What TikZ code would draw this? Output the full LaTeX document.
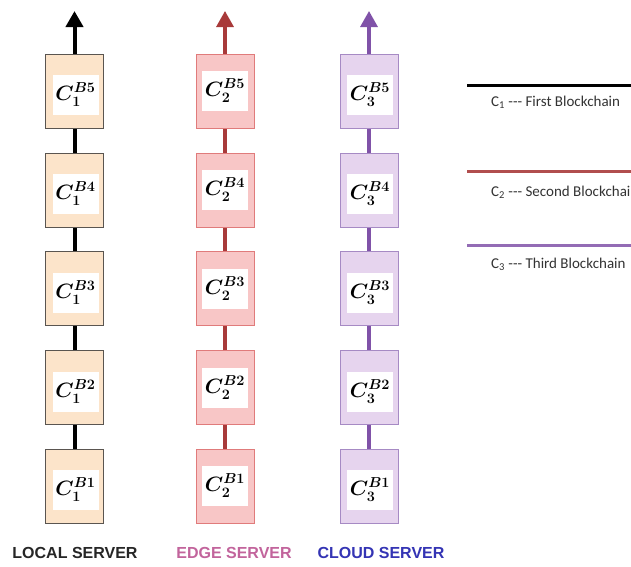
\documentclass[tikz,border=0pt]{standalone}
\usepackage{fontspec}
\usepackage{amsmath}
\newfontfamily\legendfont{Carlito}
\newfontfamily\labelfont{Liberation Sans}
\usetikzlibrary{arrows.meta}
\definecolor{peach}{HTML}{FCE4CA}
\definecolor{peachb}{HTML}{5A5550}
\definecolor{pinkf}{HTML}{F8C6C6}
\definecolor{pinkb}{HTML}{E07B7B}
\definecolor{lavf}{HTML}{E6D4EE}
\definecolor{lavb}{HTML}{A68AC4}
\definecolor{redl}{HTML}{A83A3A}
\definecolor{purl}{HTML}{8052A8}
\definecolor{edgec}{HTML}{C2649C}
\definecolor{cloudc}{HTML}{3434B4}
\definecolor{legtxt}{HTML}{333333}
\begin{document}
\begin{tikzpicture}[x=1pt,y=-1pt,
  blk/.style={draw, line width=1pt, minimum width=58pt, minimum height=74pt, inner sep=0pt},
  lbl/.style={fill=white, minimum width=46pt, minimum height=40pt, inner sep=0pt, font=\fontsize{21.5}{26}\selectfont\boldmath},
  conna/.style={line width=4pt, black},
  connb/.style={line width=3.2pt, redl},
  connc/.style={line width=3.2pt, purl},
  tip/.style={-{Triangle[width=17pt,length=16pt]}},
  srv/.style={font=\labelfont\bfseries\fontsize{16}{18}\selectfont},
  leg/.style={anchor=west, text=legtxt, inner sep=0pt, font=\legendfont\fontsize{15}{17}\selectfont},
]
\useasboundingbox (0,0) rectangle (631,566);
\clip (0,0) rectangle (631,566);
\fill[white] (0,0) rectangle (631,566);
% columns
\foreach \i/\y in {1/486,2/387.5,3/288.5,4/190,5/91} {
  \node[blk, fill=peach, draw=peachb] (a\i) at (74.5,\y) {};
  \node[lbl] (la\i) at (75.5,\y+4) {$C_1^{B\i}$};
  \node[blk, fill=pinkf, draw=pinkb] (b\i) at (225,\y) {};
  \node[lbl] (lb\i) at (225,\y) {$C_2^{B\i}$};
  \node[blk, fill=lavf, draw=lavb] (c\i) at (369,\y) {};
  \node[lbl] (lc\i) at (370,\y+4) {$C_3^{B\i}$};
}
\foreach \i/\j in {1/2,2/3,3/4,4/5} {
  \draw[conna] (a\i.north) -- (a\j.south);
  \draw[connb] (b\i.north) -- (b\j.south);
  \draw[connc] (c\i.north) -- (c\j.south);
}
\coordinate (ta) at (74.5,11);
\coordinate (tb) at (225,11);
\coordinate (tc) at (369,11);
\draw[conna,tip] (a5.north) -- (ta);
\draw[connb,tip] (b5.north) -- (tb);
\draw[connc,tip] (c5.north) -- (tc);
% server labels
\node[srv, text=black!85] (s1) at (75,553) {LOCAL SERVER};
\node[srv, text=edgec] (s2) at (234,553) {EDGE SERVER};
\node[srv, text=cloudc] (s3) at (381,553) {CLOUD SERVER};
% legend
\coordinate (k1s) at (467,85); \coordinate (k1e) at (631,85);
\coordinate (k2s) at (467,171); \coordinate (k2e) at (631,171);
\coordinate (k3s) at (467,245); \coordinate (k3e) at (631,245);
\draw[line width=3pt, black] (k1s) -- (k1e);
\draw[line width=3pt, redl!90] (k2s) -- (k2e);
\draw[line width=3pt, purl!85] (k3s) -- (k3e);
\node[leg] (t1) at (491,102) {C\textsubscript{1} -{}-{}- First Blockchain};
\node[leg] (t2) at (491,192) {C\textsubscript{2} -{}-{}- Second Blockchai};
\node[leg] (t3) at (491,264) {C\textsubscript{3} -{}-{}- Third Blockchain};
\end{tikzpicture}
\end{document}
